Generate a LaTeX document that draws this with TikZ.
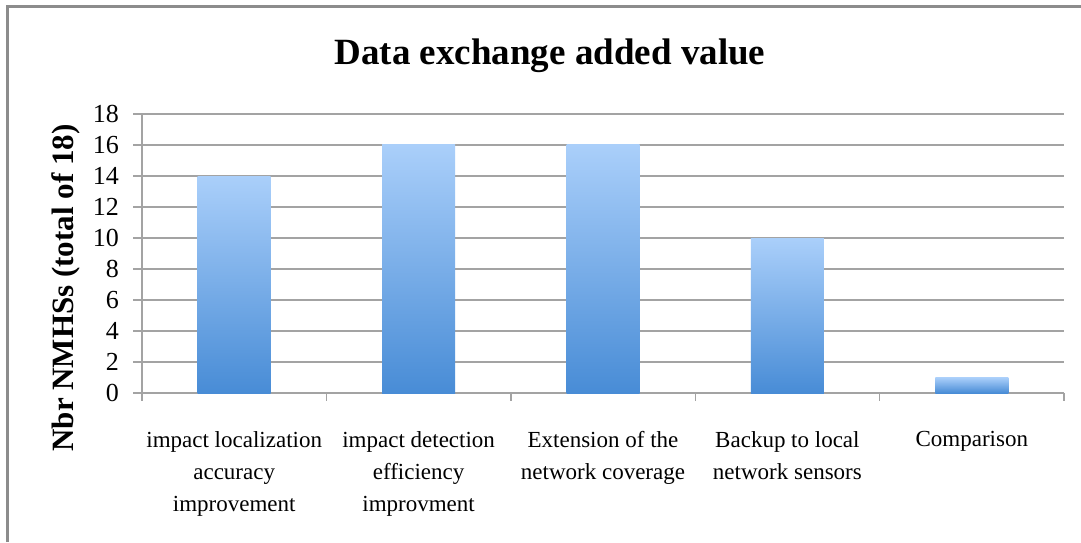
\documentclass[tikz,border=0pt]{standalone}
\usepackage{fontspec}
\setmainfont{Liberation Serif}
\usetikzlibrary{positioning}
\definecolor{gridgray}{RGB}{163,163,163}
\definecolor{framegray}{RGB}{140,140,140}
\definecolor{bartop}{RGB}{170,207,250}
\definecolor{barbottom}{RGB}{72,140,214}

\begin{document}
\begin{tikzpicture}[x=1pt,y=1pt]
    \useasboundingbox (0,0) rectangle (1081,542);
    \fill[white] (0,0) rectangle (1081,542);
    \draw[framegray, line width=2.5pt] (7.5,0) -- (7.5,535.5) -- (1081,535.5);

    % grid lines and values
    \foreach \v in {0,2,...,18} {
        \draw[gridgray, line width=1.4pt] (133,149+15.5*\v) -- (1064,149+15.5*\v);
        \node[anchor=east, inner sep=0pt, font=\fontsize{26}{28}\selectfont] (val\v) at (119,149+15.5*\v) {\v};
    }
    \draw[gridgray, line width=1.4pt] (142,149) -- (142,428);
    \foreach \k in {0,...,5}
        \draw[gridgray, line width=1.4pt] (142+184.4*\k,149) -- (142+184.4*\k,141);

    % bars
    \foreach \i/\n in {0/14,1/16,2/16,3/10,4/1}
        \shade[top color=bartop, bottom color=barbottom] ({197.7+184.4*\i},149) rectangle ++(73,15.5*\n);

    % category names
    \foreach \i/\txt in {0/{impact localization\\accuracy\\improvement},
                         1/{impact detection\\efficiency\\improvment},
                         2/{Extension of the\\network coverage},
                         3/{Backup to local\\network sensors},
                         4/{Comparison}}
        \node[anchor=north, align=center, inner sep=0pt, font=\fontsize{23}{32}\selectfont] (cat\i) at ({234.2+184.4*\i},111) {\txt};

    \node[anchor=base, font=\bfseries\fontsize{37}{40}\selectfont] (title) at (550,477) {Data exchange added value};
    \node[anchor=base, rotate=90, inner sep=0pt, font=\bfseries\fontsize{31}{34}\selectfont] (ytitle) at (73,254) {Nbr NMHSs (total of 18)};
\end{tikzpicture}
\end{document}
